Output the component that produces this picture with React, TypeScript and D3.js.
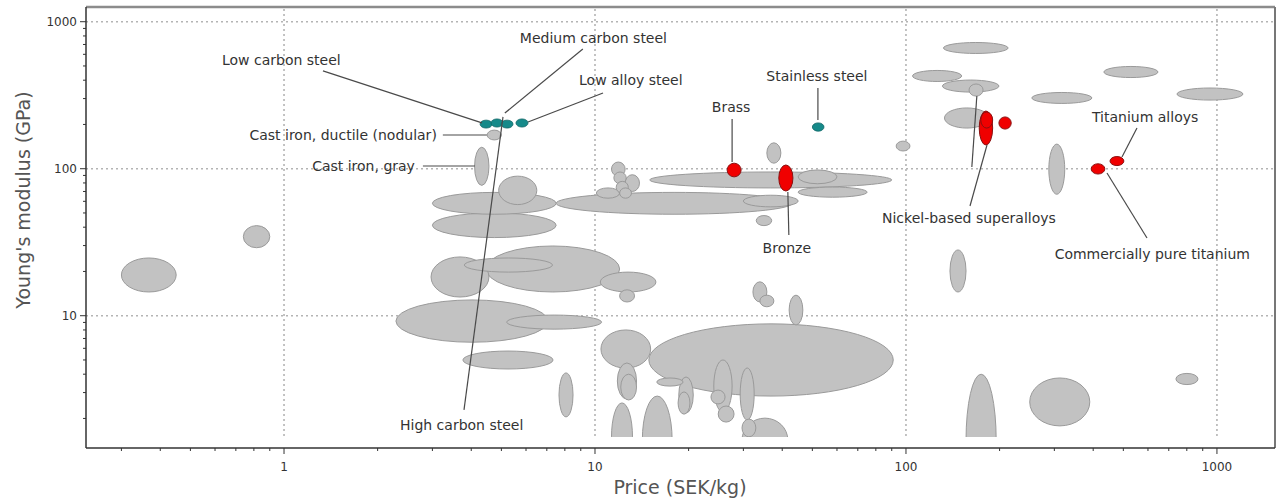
import React from "react";
import * as d3 from "d3";

type Box = [number, number, number, number]; // [priceLo, priceHi, modulusLo, modulusHi]

const priceTicks = [1, 10, 100, 1000];
const modulusTicks = [10, 100, 1000];

const otherMaterials: Box[] = [
  [0.74, 0.9, 29, 41],
  [0.3, 0.45, 14.5, 24.7],
  [4.5, 5.0, 157, 183],
  [4.1, 4.56, 77, 140],
  [4.9, 6.5, 57, 89],
  [3.0, 7.5, 49, 69],
  [3.0, 7.5, 34, 50],
  [7.5, 43, 49, 69],
  [15, 90, 74, 95],
  [45, 60, 79, 98],
  [45, 75, 64, 75],
  [30, 45, 55, 66],
  [33, 37, 41, 48],
  [35.7, 39.6, 109, 150],
  [93, 103, 132, 154],
  [11.3, 12.5, 89, 111],
  [11.5, 12.6, 79, 95],
  [12.5, 13.9, 70, 91],
  [10.1, 12, 63, 74],
  [12, 13.1, 63, 74],
  [11.7, 12.8, 68, 82],
  [2.97, 4.56, 13.4, 25.1],
  [4.46, 12, 14.5, 29.8],
  [3.8, 7.3, 19.8, 24.7],
  [10.4, 15.7, 14.5, 19.8],
  [12, 13.4, 12.4, 15],
  [2.29, 7.06, 6.6, 12.8],
  [5.2, 10.5, 8.1, 10.1],
  [3.76, 7.33, 4.34, 5.75],
  [7.66, 8.5, 2.05, 4.08],
  [10.45, 15.1, 4.4, 8.0],
  [14.9, 91, 2.84, 8.8],
  [11.8, 13.6, 2.71, 4.77],
  [12.1, 13.6, 2.67, 4.0],
  [11.3, 13.2, 0.88, 2.55],
  [14.2, 17.7, 0.72, 2.84],
  [15.8, 19.2, 3.32, 3.77],
  [18.6, 20.7, 2.18, 3.83],
  [18.5, 20.2, 2.14, 3.03],
  [24.1, 27.6, 2.21, 5.0],
  [23.6, 26.2, 2.51, 3.12],
  [24.9, 28, 1.89, 2.43],
  [29.3, 32.5, 1.95, 4.41],
  [29.7, 32.9, 1.5, 1.98],
  [29.7, 41.7, 1.01, 2.01],
  [32.2, 35.7, 12.4, 17],
  [33.9, 37.6, 11.5, 13.8],
  [42.1, 46.6, 8.65, 13.8],
  [132, 213, 608, 722],
  [105, 151, 392, 466],
  [131, 199, 332, 401],
  [159.5, 177, 312, 377],
  [133, 185, 189, 259],
  [254, 396, 278, 330],
  [433, 646, 417, 496],
  [744, 1212, 293, 354],
  [288, 324, 67, 147],
  [138.5, 156, 14.5, 28],
  [156, 195, 0.51, 4.0],
  [250, 390, 1.78, 3.77],
  [738, 869, 3.4, 4.05],
];

const steels: Box[] = [
  [4.27, 4.67, 189, 214],
  [4.63, 5.06, 192, 218],
  [4.99, 5.45, 189, 214],
  [5.57, 6.09, 192, 218],
  [50, 54.5, 180, 205],
];

const highlighted: Box[] = [
  [26.6, 29.5, 88, 109],
  [39, 43.3, 70.5, 106],
  [172, 190, 145, 247],
  [174, 190, 189, 243],
  [199, 218, 186, 225],
  [453, 502, 105, 121],
  [394, 436, 92, 108],
];

const annotations = [
  { label: "Low carbon steel", price: 4.33, modulus: 205, line: [-159, -52], text: [-260, -63], anchor: "start" },
  { label: "Medium carbon steel", price: 5.13, modulus: 239, line: [78, -64], text: [15, -75], anchor: "start" },
  { label: "Low alloy steel", price: 6.09, modulus: 208, line: [75, -29], text: [51, -42], anchor: "start" },
  { label: "Cast iron, ductile (nodular)", price: 4.49, modulus: 169.5, line: [-44, 0], text: [-50, 0], anchor: "end" },
  { label: "Cast iron, gray", price: 4.11, modulus: 104.3, line: [-52, 0], text: [-60, 0], anchor: "end" },
  { label: "Stainless steel", price: 52.1, modulus: 214.5, line: [0, -32], text: [-1, -44], anchor: "middle" },
  { label: "Brass", price: 27.6, modulus: 111, line: [0, -43], text: [-1, -55], anchor: "middle" },
  { label: "Bronze", price: 41.7, modulus: 69.4, line: [1, 43], text: [-1, 56], anchor: "middle" },
  { label: "Nickel-based superalloys", price: 182.2, modulus: 145, line: [-17, 61], text: [-105, 73], anchor: "start" },
  { label: "", price: 169, modulus: 312, line: [-5, 71], text: [0, 0], anchor: "start" },
  { label: "Titanium alloys", price: 495, modulus: 120, line: [15, -29], text: [-30, -40], anchor: "start" },
  { label: "Commercially pure titanium", price: 443, modulus: 93.5, line: [40, 65], text: [143, 81], anchor: "end" },
  { label: "High carbon steel", price: 5.06, modulus: 225, line: [-39, 293], text: [-103, 308], anchor: "start" },
];

const W = 1283;
const H = 501;
const L = 86;
const R = 1275;
const T = 7;
const B = 448;
const CLIP_B = 437;

const x = d3.scaleLog().domain([0.2308, 1537]).range([L, R]);
const y = d3.scaleLog().domain([1.259, 1259]).range([B, T]);

function toEllipse(b: Box) {
  const x0 = x(b[0]);
  const x1 = x(b[1]);
  const y0 = y(b[2]);
  const y1 = y(b[3]);
  return { cx: (x0 + x1) / 2, cy: (y0 + y1) / 2, rx: (x1 - x0) / 2, ry: (y0 - y1) / 2 };
}

function minorTicks(lo: number, hi: number) {
  const out: number[] = [];
  for (let e = -1; e <= 3; e++) {
    for (let m = 1; m <= 9; m++) {
      const v = m * Math.pow(10, e);
      if (v >= lo && v <= hi && m !== 1) out.push(v);
    }
  }
  return out;
}

export default function App() {
  const font = "'DejaVu Sans', Verdana, sans-serif";
  const gray = [...otherMaterials]
    .map(toEllipse)
    .sort((a, b) => b.rx * b.ry - a.rx * a.ry);
  const xMinor = minorTicks(0.2308, 1537);
  const yMinor = minorTicks(1.259, 1259);

  return (
    <svg width={W} height={H} style={{ position: "absolute", left: 0, top: 0, display: "block", background: "#fff" }} fontFamily={font}>
      <defs>
        <clipPath id="plotClip">
          <rect x={L} y={T} width={R - L} height={CLIP_B - T} />
        </clipPath>
      </defs>

      {/* grid */}
      <g stroke="#b4b4b4" strokeWidth={1.6} strokeDasharray="2 3" clipPath="url(#plotClip)">
        {priceTicks.map((t) => (
          <line key={"gx" + t} x1={x(t)} x2={x(t)} y1={T + 2} y2={CLIP_B} />
        ))}
        {modulusTicks.map((t) => (
          <line key={"gy" + t} x1={L} x2={R} y1={y(t)} y2={y(t)} />
        ))}
      </g>

      {/* material bubbles */}
      <g clipPath="url(#plotClip)">
        {gray.map((e, i) => (
          <ellipse key={"g" + i} cx={e.cx} cy={e.cy} rx={e.rx} ry={e.ry} fill="#c2c2c2" stroke="#9a9a9a" strokeWidth={1} />
        ))}
        {highlighted.map(toEllipse).map((e, i) => (
          <ellipse key={"r" + i} cx={e.cx} cy={e.cy} rx={e.rx} ry={e.ry} fill="#f00000" stroke="#8a1010" strokeWidth={1} />
        ))}
        {steels.map(toEllipse).map((e, i) => (
          <ellipse key={"s" + i} cx={e.cx} cy={e.cy} rx={e.rx} ry={e.ry} fill="#168a8a" stroke="#0e6464" strokeWidth={0.8} />
        ))}
      </g>

      {/* annotations */}
      <g>
        {annotations.map((a, i) => {
          const ax = x(a.price);
          const ay = y(a.modulus);
          return (
            <g key={"a" + i}>
              <line x1={ax} y1={ay} x2={ax + a.line[0]} y2={ay + a.line[1]} stroke="#4a4a4a" strokeWidth={1.2} />
              {a.label && (
                <text
                  x={ax + a.text[0]}
                  y={ay + a.text[1]}
                  textAnchor={a.anchor as any}
                  dominantBaseline="central"
                  fontSize={14}
                  fill="#333"
                >
                  {a.label}
                </text>
              )}
            </g>
          );
        })}
      </g>

      {/* frame */}
      <line x1={L} x2={R} y1={T} y2={T} stroke="#8c8c8c" strokeWidth={2.5} />
      <line x1={R} x2={R} y1={T} y2={B} stroke="#777" strokeWidth={2} />
      <line x1={L} x2={L} y1={T} y2={B} stroke="#333" strokeWidth={1.5} />
      <line x1={L} x2={R} y1={B} y2={B} stroke="#333" strokeWidth={1.5} />

      {/* ticks */}
      <g stroke="#333" strokeWidth={1}>
        {xMinor.map((t) => (
          <line key={"xm" + t} x1={x(t)} x2={x(t)} y1={B} y2={B + 3} />
        ))}
        {priceTicks.map((t) => (
          <line key={"xM" + t} x1={x(t)} x2={x(t)} y1={B} y2={B + 6} />
        ))}
        {yMinor.map((t) => (
          <line key={"ym" + t} x1={L - 3} x2={L} y1={y(t)} y2={y(t)} />
        ))}
        {modulusTicks.map((t) => (
          <line key={"yM" + t} x1={L - 6} x2={L} y1={y(t)} y2={y(t)} />
        ))}
      </g>
      <g fontSize={12} fill="#333">
        {priceTicks.map((t) => (
          <text key={"xl" + t} x={x(t)} y={B + 19} textAnchor="middle" dominantBaseline="central">
            {String(t)}
          </text>
        ))}
        {modulusTicks.map((t) => (
          <text key={"yl" + t} x={L - 9} y={y(t)} textAnchor="end" dominantBaseline="central">
            {String(t)}
          </text>
        ))}
      </g>

      {/* axis titles */}
      <text x={680} y={487} textAnchor="middle" dominantBaseline="central" fontSize={19} fill="#555">
        Price (SEK/kg)
      </text>
      <text
        transform={`translate(23, 200) rotate(-90)`}
        textAnchor="middle"
        dominantBaseline="central"
        fontSize={19}
        fill="#555"
      >
        Young's modulus (GPa)
      </text>
    </svg>
  );
}
